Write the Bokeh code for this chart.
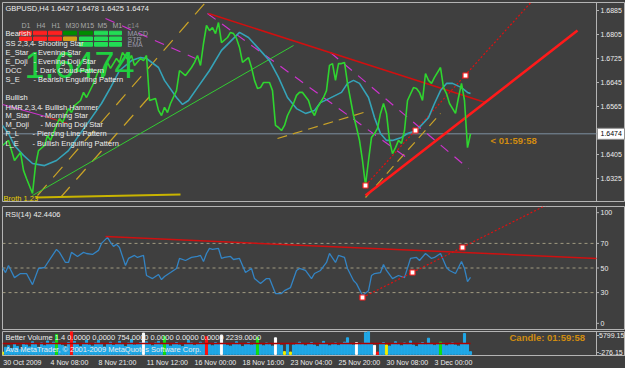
from bokeh.plotting import figure
from bokeh.layouts import column
from bokeh.models import Range1d, FixedTicker
from bokeh.core.properties import value
from bokeh.embed import file_html
from bokeh.resources import INLINE

# ---------------- data ----------------
price_bar = [0, 2, 3, 4, 6, 7, 8, 10, 11, 12, 14, 15, 16, 18, 19, 20, 22, 23, 24, 26, 27, 28, 30, 31, 32, 34, 35, 36, 38, 39,
             40, 42, 43, 44, 46, 47, 48, 49, 51, 52, 53, 54, 55, 56, 58, 59, 61, 63, 64, 65, 66, 67, 68, 69, 70, 71, 72, 73, 75, 76,
             77, 78, 79, 80, 82, 83, 84, 85, 86, 87, 89, 90, 91, 92, 93, 94, 95, 97, 98, 99, 100, 102, 103, 104, 105, 107, 108, 109, 110, 111,
             112, 113, 114, 115, 117, 118, 119, 120, 121, 122, 123, 124, 125, 126, 127, 128, 129, 130, 131, 132, 133, 134, 135, 137, 138, 139, 140, 141, 142, 143,
             144, 146, 147, 148, 149, 151, 152, 153, 154, 155, 156]
price_close = [1.6435, 1.6452, 1.6418, 1.6385, 1.6412, 1.6352, 1.6325, 1.6275, 1.6368, 1.6418, 1.6435, 1.6468, 1.6452, 1.6502, 1.6525, 1.6512, 1.6558, 1.6545, 1.6568, 1.6585, 1.6612, 1.6595, 1.6635, 1.6658, 1.6685, 1.6668, 1.6712, 1.6692, 1.6725, 1.6712,
               1.6745, 1.6718, 1.6735, 1.6702, 1.6725, 1.6718, 1.6735, 1.6585, 1.6592, 1.6552, 1.6535, 1.6562, 1.6545, 1.6575, 1.6618, 1.6685, 1.6668, 1.6695, 1.6712, 1.6735, 1.6702, 1.6775, 1.6835, 1.6818, 1.6828, 1.6808, 1.6845, 1.6778, 1.6795, 1.6812,
               1.6808, 1.6792, 1.6762, 1.6712, 1.6728, 1.6695, 1.6652, 1.6625, 1.6628, 1.6645, 1.6645, 1.6618, 1.6502, 1.6495, 1.6485, 1.6502, 1.6535, 1.6575, 1.6602, 1.6612, 1.6612, 1.6585, 1.6552, 1.6535, 1.6562, 1.6595, 1.6618, 1.6702, 1.6708, 1.6652,
               1.6708, 1.6708, 1.6712, 1.6642, 1.6535, 1.6495, 1.6452, 1.6385, 1.6302, 1.6385, 1.6462, 1.6475, 1.6492, 1.6542, 1.6575, 1.6542, 1.6452, 1.6408, 1.6428, 1.6452, 1.6442, 1.6485, 1.6585, 1.6628, 1.6625, 1.6612, 1.6585, 1.6675, 1.6652, 1.6642,
               1.6662, 1.6695, 1.6628, 1.6608, 1.6575, 1.6542, 1.6595, 1.6642, 1.6585, 1.6428, 1.6474]

ma_bar = [0, 2, 4, 7, 10, 14, 18, 22, 25, 29, 33, 36, 39, 43, 46, 48, 52, 54, 58, 60, 62, 65, 69, 73, 77, 79, 82, 85, 89, 92,
          95, 98, 101, 104, 106, 109, 113, 115, 117, 119, 122, 124, 126, 128, 130, 133, 135, 138, 142, 144, 146, 148, 150, 153, 155, 156]
ma_val = [1.6502, 1.6475, 1.6435, 1.6402, 1.6375, 1.6368, 1.6385, 1.6418, 1.6462, 1.6518, 1.6575, 1.6628, 1.6685, 1.6718, 1.6728, 1.6725, 1.6695, 1.6652, 1.6595, 1.6572, 1.6585, 1.6628, 1.6685, 1.6752, 1.6792, 1.6812, 1.6795, 1.6762, 1.6718, 1.6662,
          1.6595, 1.6558, 1.6542, 1.6552, 1.6578, 1.6592, 1.6612, 1.6642, 1.6652, 1.6642, 1.6595, 1.6528, 1.6475, 1.6452, 1.6452, 1.6462, 1.6475, 1.6485, 1.6528, 1.6575, 1.6618, 1.6642, 1.6642, 1.6628, 1.6612, 1.6608]

rsi_bar = [0, 1, 2, 4, 6, 8, 10, 12, 14, 16, 18, 19, 21, 22, 23, 25, 27, 28, 30, 32, 33, 35, 36, 37, 38, 39, 41, 42, 44, 45,
           47, 48, 50, 52, 53, 54, 56, 58, 59, 61, 63, 65, 66, 67, 68, 69, 70, 72, 73, 74, 76, 77, 79, 81, 83, 84, 86, 88, 89, 91,
           93, 94, 96, 98, 99, 101, 103, 104, 106, 108, 109, 111, 112, 114, 115, 117, 118, 120, 122, 123, 124, 126, 127, 128, 130, 132, 134, 136, 138, 139,
           141, 143, 144, 146, 148, 149, 151, 153, 154, 155, 156]
rsi_val = [50.4, 46.3, 52.0, 42.2, 45.5, 45.5, 36.5, 49.6, 50.4, 57.8, 65.1, 62.7, 54.5, 54.5, 62.7, 59.4, 62.7, 61.8, 61.0, 64.3, 70.0, 74.9, 70.8, 67.6, 69.2, 66.7, 52.0, 57.8, 60.2, 58.6,
           60.2, 43.9, 41.4, 44.7, 40.6, 43.1, 46.3, 49.6, 57.8, 56.1, 58.6, 59.4, 60.2, 55.3, 61.8, 65.9, 65.1, 65.9, 57.8, 58.6, 59.4, 56.9, 57.8, 46.3, 49.6, 41.4, 37.3, 41.4, 41.4, 29.2,
           29.2, 31.6, 34.1, 48.0, 49.6, 48.0, 41.4, 45.5, 48.0, 54.5, 61.8, 54.5, 60.2, 58.6, 49.6, 39.8, 37.3, 27.6, 31.6, 43.9, 45.5, 46.3, 52.9, 48.0, 41.4, 43.9, 42.2, 57.8, 58.6, 56.1,
           61.8, 57.8, 58.6, 61.8, 50.4, 48.0, 45.5, 55.3, 49.6, 39.0, 42.44]

volume = [600, 1800, 2200, 1500, 2600, 2000, 1200, 2800, 2400, 1900,
          3200, 2500, 1800, 2900, 2200, 3400, 2700, 3100, 5000, 2600,
          2300, 1900, 3000, 5800, 3300, 2500, 2000, 2800, 3600, 2400,
          2100, 2900, 3500, 2600, 1900, 2700, 3100, 2300, 2800, 3300,
          2500, 2000, 2900, 3800, 2400, 2600, 3000, 5400, 3200, 2700,
          2200, 2900, 3300, 2500, 4600, 2800, 2100, 2600, 3000, 2400,
          2000, 2700, 3500, 2900, 2300, 2600, 3100, 2800, 4500, 2500,
          2200, 3000, 2600, 4900, 2800, 2300, 2100, 2700, 3200, 2500,
          2000, 2600, 3000, 2400, 2800, 4300, 2600, 2200, 2900, 2500,
          2100, 4200, 2700, 2300, 700, 2600, 600, 2400, 2800, 3100,
          2500, 2200, 2700, 3000, 2400, 2000, 2800, 3300, 2600, 2200,
          2500, 2900, 2300, 2700, 3100, 4200, 2600, 2400, 3000, 2500,
          2800, 5500, 5900, 2700, 2300, 600, 2600, 3000, 2400, 2100,
          2700, 3200, 2500, 2200, 2900, 2600, 3400, 2400, 2000, 2800,
          3000, 2500, 4100, 2700, 2300, 2600, 3100, 2800, 2200, 2500,
          2900, 2400, 2100, 2700, 5300, 2600, 700]
volume_kind = "ybbbbbbbbbbbbbbbbbgbbbbrbbbbbbbbbbbbbbbbbbbbbbbwbbbbbbgbbbbbbbbbbbbbrbbbbwbbbbbbbbbbbgbbbbbwbbybybbbbbbbbbbbbbbbbbbbbbwbbbbbwrbbybbbbbbbbbbbbbbbbbgbbbbbbbbbbbwby"
volume_avg = 2760

time_tick_bars = [0, 16, 32, 48, 64, 80, 96, 112, 128, 144]
time_tick_labels = ["30 Oct 2009", "4 Nov 08:00", "8 Nov 21:00", "11 Nov 12:00", "16 Nov 00:00",
                    "18 Nov 16:00", "23 Nov 04:00", "25 Nov 20:00", "30 Nov 08:00", "3 Dec 00:00"]
price_ticks = [1.6885, 1.6805, 1.6725, 1.6645, 1.6565, 1.6405, 1.6325]
price_tick_labels = ["1.6885", "1.6805", "1.6725", "1.6645", "1.6565", "1.6405", "1.6325"]
rsi_ticks = [95, 70, 50, 30, 5]
rsi_tick_labels = ["100", "70", "50", "30", "0"]
rsi_levels = [30, 50, 70]
vol_ticks = [4786.6, 483.6]
vol_tick_labels = ["5799.15", "-276.15"]
current_price = 1.6474

# ---------------- style ----------------
BG = "#3f3f3f"
BORDER = "#b4b4b4"
TXT = "#ececec"
FONT = "Liberation Sans"
W = 625
PX_BAR = 3.0
XR = (0, (W - 2) / PX_BAR)
PMAX = 1.6885 + 8 / 3000.0
PMIN = PMAX - 199 / 3000.0


def bx(px):
    return (px - 2) / PX_BAR


AX = bx(596)


def py(ypx):
    return PMAX - (ypx - 2) / 3000.0


def base_fig(height, yr, top, bottom, xaxis=None):
    f = figure(width=W, height=height, x_range=Range1d(*XR), y_range=yr,
               y_axis_location=None, x_axis_location=xaxis,
               toolbar_location=None, output_backend="svg",
               min_border_left=2, min_border_right=0,
               min_border_top=top, min_border_bottom=bottom,
               background_fill_color=BG, border_fill_color=BG,
               outline_line_color=BORDER, outline_line_width=1)
    f.grid.visible = False
    return f


def scale_strip(f, lo, hi, ticks, labels, label_px=600):
    f.line([AX, AX], [lo, hi], color=BORDER, line_width=1)
    f.segment(x0=[AX] * len(ticks), x1=[bx(598.5)] * len(ticks), y0=ticks, y1=ticks, color=BORDER, line_width=1)
    f.text(x=[bx(label_px)] * len(ticks), y=ticks, text=labels, text_font=value(FONT),
           text_font_size=value("7px"), text_color=TXT, text_baseline="middle")


def txt(f, x, y, s, color=TXT, size="7.5px", bold=False, align="left", baseline="middle"):
    f.text(x=[x], y=[y], text=[s], text_font=value(FONT), text_font_size=value(size),
           text_color=color, text_align=align, text_baseline=baseline,
           text_font_style="bold" if bold else "normal")


# ---------------- main price panel ----------------
p = base_fig(203, Range1d(PMIN, PMAX), 2, 2)
scale_strip(p, PMIN, PMAX, price_ticks, price_tick_labels)

# current price line and marker box on the scale
p.line([0, AX], [current_price, current_price], color="#7d8fa0", line_width=1)
p.quad(left=[bx(597)], right=[bx(624)], top=[current_price + 5.5 / 3000], bottom=[current_price - 5.5 / 3000],
       fill_color="white", line_color="#909090")
p.text(x=[bx(600)], y=[current_price], text=["1.6474"], text_font=value(FONT),
       text_font_size=value("7px"), text_color="black", text_baseline="middle")

# trend / channel lines
yel = "#c9a227"
mag = "#cc33cc"
p.line([bx(37), bx(205)], [py(195), py(2)], color=yel, line_width=1.2, line_dash="14 10")
p.line([bx(60), bx(150)], [py(197), py(95)], color=yel, line_width=1.2, line_dash="14 10")
p.line([bx(277), bx(363)], [py(138), py(112)], color=yel, line_width=1.2, line_dash="10 6")
p.line([bx(365), bx(440)], [py(197), py(113)], color=yel, line_width=1.2, line_dash="10 6")
p.line([bx(35), bx(180)], [py(197), py(194)], color="#c8b400", line_width=2)
p.line([bx(207), bx(410)], [py(13), py(160)], color=mag, line_width=1.2, line_dash="10 8")
p.line([bx(330), bx(468)], [py(52), py(168)], color=mag, line_width=1.2, line_dash="10 8")
p.line([bx(105), bx(195)], [py(18), py(58)], color=mag, line_width=1.2, line_dash="10 8")
p.line([bx(2), bx(45)], [py(104), py(116)], color=mag, line_width=1.2)
p.line([bx(45), bx(67)], [py(116), py(123)], color="#cc2020", line_width=1.2)
p.line([bx(32), bx(293)], [py(195), py(45)], color="#33cc33", line_width=1)
p.line([bx(208), bx(485)], [py(13), py(102)], color="#d01010", line_width=1.5)
p.line([bx(365), bx(577)], [py(195), py(30)], color="#ff1a1a", line_width=2.6)
p.line([bx(365), bx(534)], [py(185), py(-2)], color="#e01010", line_width=1.2, line_dash="2 2")

# price and MA
p.line(ma_bar, ma_val, color="#35a3b8", line_width=1.6)
p.line(price_bar, price_close, color="#2fd52f", line_width=1.6)

p.scatter([bx(365), bx(415), bx(465)], [py(185), py(130), py(75)], marker="square", size=5,
          fill_color="white", line_color="#ff2020", line_width=1.2)

# header texts
txt(p, bx(5), py(8), "GBPUSD,H4  1.6427 1.6478 1.6425 1.6474")
for lab, xp in zip(["D1", "H4", "H1", "M30", "M15", "M5", "M1"], [21, 36, 51, 65, 80, 97, 112]):
    txt(p, bx(xp), py(25), lab, color="#a8a8a8", size="7px")
txt(p, bx(127), py(25), "c14", color="#8a8a8a", size="7px")
blocks_x = [(19, 31), (33, 46), (48, 61), (63, 76), (79, 92), (94, 107), (109, 121)]
rows = [(30.7, 34.3, ["#ff2020", "#ff2020", "#ff2020", "#008c00", "#008c00", "#22dd55", "#22dd55"]),
        (36.5, 40.0, ["#ff2020", "#ff2020", "#ff2020", "#d4a017", "#22dd55", "#22dd55", "#22dd55"]),
        (42.0, 45.7, [None, None, None, None, "#22dd55", "#22dd55", "#22dd55"])]
for t, b, cols in rows:
    for (l, r_), c in zip(blocks_x, cols):
        if c:
            p.quad(left=[bx(l)], right=[bx(r_)], top=[py(t)], bottom=[py(b)], color=c)
txt(p, bx(127), py(32.5), "MACD", color="#9a9aaa", size="7px")
txt(p, bx(127), py(38.5), "STR", color="#9a9aaa", size="7px")
txt(p, bx(127), py(44), "EMA", color="#9a9aaa", size="7px")

txt(p, bx(24), py(64), "1.6474", color="#20d040", size="36px")

legend = [(33, "Bearish", None, 0), (43, "SS 2,3,4", "- Shooting Star", 33), (52, "E_Star", "- Evening Star", 33),
          (61, "E_Doji", "- Evening Doji Star", 33), (70, "DCC", "- Dark Cloud Pattern", 35),
          (79, "S_E", "- Bearish Engulfing Pattern", 33), (97, "Bullish", None, 0),
          (107, "HMR 2,3,4", "- Bullish Hammer", 40), (115, "M_Star", "- Morning Star", 40),
          (124, "M_Doji", "- Morning Doji Star", 40), (133, "P_L", "- Piercing Line Pattern", 32),
          (143, "L_E", "- Bullish Engulfing Pattern", 32)]
for yp, a, d, xd in legend:
    txt(p, bx(5), py(yp), a)
    if d:
        txt(p, bx(xd), py(yp), d)

txt(p, bx(3), py(198), "Broth 1.23", color="#e8d000", size="7.5px")
txt(p, bx(490), py(140), "<  01:59:58", color="#d08c10", size="9.5px", bold=True)

# ---------------- RSI panel ----------------
r = base_fig(127, Range1d(0, 100), 3, 1)
scale_strip(r, 0, 100, rsi_ticks, rsi_tick_labels)


def ry(ypx):
    return 100 - (ypx - 206) / 1.23


for lv in rsi_levels:
    r.line([0, AX], [lv, lv], color="#a09a80", line_dash="3 3", line_width=1)
r.line(rsi_bar, rsi_val, color="#3384c4", line_width=1.3)
r.line([bx(105), AX], [ry(236), ry(258)], color="#d01010", line_width=1.5)
r.line([bx(362), bx(545)], [ry(297), ry(205)], color="#e01010", line_width=1.2, line_dash="2 2")
r.scatter([bx(362), bx(412), bx(462)], [ry(297), ry(272), ry(247)], marker="square", size=5,
          fill_color="white", line_color="#ff2020", line_width=1.2)
txt(r, bx(5), ry(214), "RSI(14) 42.4406")

# ---------------- volume panel ----------------
VMIN, VMAX = -276.15, 5799.15
v = base_fig(38, Range1d(VMIN, VMAX), 1, 13, xaxis="below")
scale_strip(v, VMIN, VMAX, vol_ticks, vol_tick_labels, label_px=598.5)


def vy(ypx):
    return VMAX - (ypx - 331) * (VMAX - VMIN) / 24.0


kind_col = {"b": "#1fa8e8", "w": "#ffffff", "r": "#ff1010", "g": "#10e010", "y": "#f0f000"}
vb = list(range(len(volume)))
v.vbar(x=vb, top=volume, bottom=0, width=0.7, color=[kind_col[k] for k in volume_kind])
v.line([0, len(volume) - 1], [volume_avg, volume_avg], color="#b00000", line_width=1.5)
txt(v, bx(5), vy(337), "Better Volume 1.4 0.0000 0.0000 754.0000 0.0000 0.0000 0.0000 2239.0000", size="7.5px")
txt(v, bx(5), vy(349), "Ava MetaTrader, \u00a9 2001-2009 MetaQuotes Software Corp.", size="7.5px")
txt(v, bx(509), vy(337), "Candle:  01:59:58", color="#d08c10", size="9.5px", bold=True)


def label_w(s):
    w = 0.0
    for c in s:
        w += 0.556 if c.isdigit() else (0.278 if c in " :." else 0.6)
    return w * 7


xa = v.xaxis[0]
tick_pos = [b + label_w(s) / 2 / PX_BAR for b, s in zip(time_tick_bars, time_tick_labels)]
xa.ticker = FixedTicker(ticks=tick_pos)
xa.major_label_overrides = {t: s for t, s in zip(tick_pos, time_tick_labels)}
xa.major_label_text_font = FONT
xa.major_label_text_font_size = "7px"
xa.major_label_text_color = TXT
xa.axis_line_color = BORDER
xa.major_tick_out = 0
xa.major_tick_in = 0
xa.minor_tick_line_color = None
xa.major_label_standoff = 3

layout = column(p, r, v, spacing=0, styles={"background-color": BG})
open("out.html", "w").write(file_html(layout, INLINE))
